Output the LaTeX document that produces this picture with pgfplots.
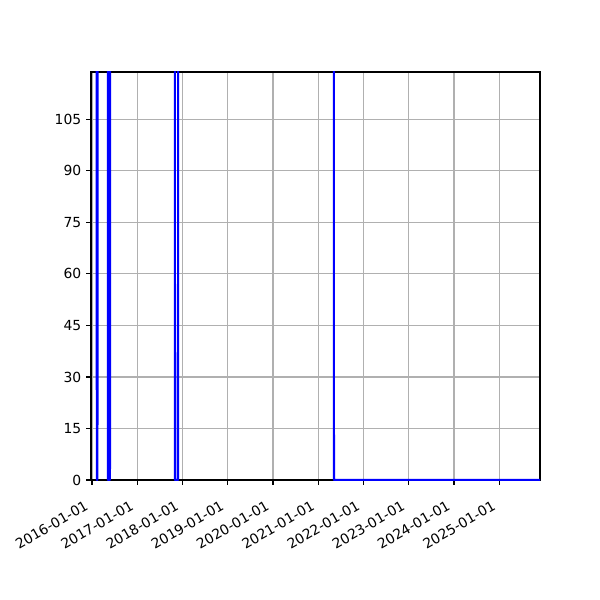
\documentclass[border=0pt]{standalone}
\usepackage{fontspec}
\setmainfont{DejaVu Sans}
\usepackage{pgfplots}
\pgfplotsset{compat=1.18}
\begin{document}
\begin{tikzpicture}
\path[use as bounding box] (-65.52pt,-86.4pt) rectangle (366.48pt,345.6pt);
\begin{axis}[
  at={(0,0)}, anchor=south west,
  scale only axis, width=323.3pt, height=293.8pt,
  xmin=-8, xmax=3616, ymin=0, ymax=118.8,
  xtick={0,366,731,1096,1461,1827,2192,2557,2922,3288},
  xticklabels={2016-01-01,2017-01-01,2018-01-01,2019-01-01,2020-01-01,2021-01-01,2022-01-01,2023-01-01,2024-01-01,2025-01-01},
  ytick={0,15,...,105},
  grid=major, grid style={color=black!31, line width=0.8pt},
  axis line style={line width=0.8pt},
  tick style={black, line width=0.8pt}, tick align=outside, major tick length=3.5pt,
  tick pos=left,
  tick label style={font=\fontsize{10}{12}\selectfont},
  xticklabel style={xshift=-5pt, yshift=-8pt, rotate=30, anchor=north east, inner sep=2pt},
  /pgf/number format/assume math mode=true,
  clip=true,
]
\addplot[blue, line width=1.5pt, line join=round] coordinates {
  (30,1000) (39,0) (44,0) (53,1000)
  (120,1000) (129,0) (145,0) (154,1000)
  (660,1000) (670,0) (694,0) (703,1000)
  (1944,1000) (1953,0) (3616,0)
};
\end{axis}
\end{tikzpicture}
\end{document}
